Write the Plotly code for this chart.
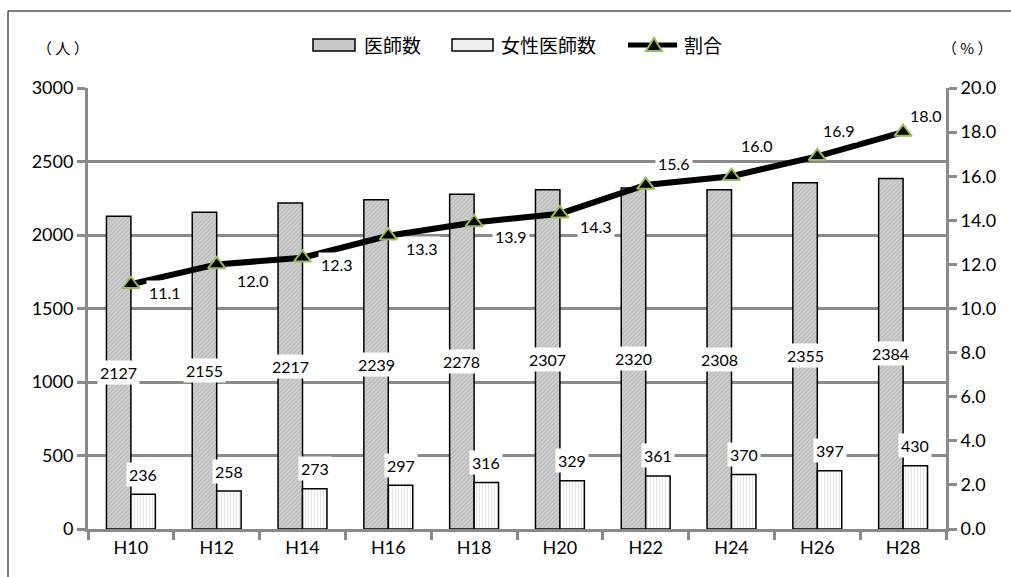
import plotly.graph_objects as go

# Survey years (Heisei era) and counts
years = ["H10", "H12", "H14", "H16", "H18", "H20", "H22", "H24", "H26", "H28"]
doctors = [2127, 2155, 2217, 2239, 2278, 2307, 2320, 2308, 2355, 2384]
female_doctors = [236, 258, 273, 297, 316, 329, 361, 370, 397, 430]
female_ratio = [11.1, 12.0, 12.3, 13.3, 13.9, 14.3, 15.6, 16.0, 16.9, 18.0]
series_names = ["医師数", "女性医師数", "割合"]

# Pixel offsets (dx, dy) of the ratio labels relative to their markers
ratio_label_offsets = [(34, -8), (36, -16), (34, -7), (34, -13), (37, -14),
                       (36, -13), (28, 22), (25, 31), (22, 26), (23, 17)]

W, H = 1011, 577
L, R, T, B = 88, 65, 88, 48
PW, PH = W - L - R, H - T - B
BARGAP = 0.43

GRID = "#8a8a8a"
GREEN = "#9BBB59"
DARK_FILL = "#c8c8c8"
LIGHT_FILL = "#efefef"
FONT = "Lato, 'Noto Sans CJK JP', sans-serif"
CJK = "'Noto Sans CJK JP', sans-serif"


def px_x(px):
    return (px - L) / PW


def px_y(py):
    return (H - B - py) / PH


fig = go.Figure()

fig.add_trace(go.Bar(
    x=years, y=doctors, name=series_names[0],
    marker=dict(color=DARK_FILL,
                line=dict(color="black", width=1.5),
                pattern=dict(shape="/", fgcolor="#9a9a9a", bgcolor="#d2d2d2",
                             size=3, solidity=0.4)),
))
fig.add_trace(go.Bar(
    x=years, y=female_doctors, name=series_names[1],
    marker=dict(color="white",
                line=dict(color="black", width=1.5),
                pattern=dict(shape="|", fgcolor="#cccccc", bgcolor="white",
                             size=3, solidity=0.35)),
))
fig.add_trace(go.Scatter(
    x=years, y=female_ratio, name=series_names[2], yaxis="y2",
    mode="lines+markers",
    line=dict(color="black", width=6),
    marker=dict(symbol="triangle-up", size=15, color="black",
                line=dict(color=GREEN, width=2)),
))

annotations = []
half = (1 - BARGAP) / 4
label_font = dict(family=FONT, size=16, color="black")

# Doctor count labels, centred in each bar
for i, v in enumerate(doctors):
    annotations.append(dict(
        x=i - half, y=v / 2, xref="x", yref="y", text=str(v),
        showarrow=False, bgcolor="white", borderpad=2, font=label_font))

# Female doctor count labels, just above each bar
for i, v in enumerate(female_doctors):
    annotations.append(dict(
        x=i + half, y=v, xref="x", yref="y", text=str(v), yshift=20,
        showarrow=False, bgcolor="white", borderpad=2, font=label_font))

# Ratio labels beside the markers
for i, v in enumerate(female_ratio):
    dx, dy = ratio_label_offsets[i]
    annotations.append(dict(
        x=i, y=v, xref="x", yref="y2", text=f"{v:.1f}",
        xshift=dx, yshift=dy,
        showarrow=False, bgcolor="white", borderpad=2, font=label_font))

# Unit captions above both value axes
for cx, txt in [(63, "（ 人 ）"), (968, "（ % ）")]:
    annotations.append(dict(x=px_x(cx), y=px_y(48), xref="paper", yref="paper",
                            xanchor="center", yanchor="middle",
                            text=txt, showarrow=False,
                            font=dict(family=CJK, size=15, color="black")))

shapes = []

# Frame around the chart (left and top edges)
shapes.append(dict(type="line", xref="paper", yref="paper",
                   x0=px_x(8), x1=px_x(8), y0=px_y(H + 2), y1=px_y(11),
                   line=dict(color="black", width=1)))
shapes.append(dict(type="line", xref="paper", yref="paper",
                   x0=px_x(8), x1=px_x(W + 2), y0=px_y(11), y1=px_y(11),
                   line=dict(color="black", width=1)))

# Legend drawn across the top
LEG_Y = 45
legend_font = dict(family=CJK, size=19, color="black")
for (x0, x1, fill), tx, name in [((313, 355, DARK_FILL), 362, series_names[0]),
                                 ((452, 493, LIGHT_FILL), 499, series_names[1])]:
    shapes.append(dict(type="rect", xref="paper", yref="paper",
                       x0=px_x(x0), x1=px_x(x1),
                       y0=px_y(LEG_Y + 6), y1=px_y(LEG_Y - 6),
                       fillcolor=fill, line=dict(color="black", width=1.5)))
    annotations.append(dict(x=px_x(tx), y=px_y(LEG_Y), xref="paper", yref="paper",
                            xanchor="left", yanchor="middle", text=name,
                            showarrow=False, font=legend_font))

shapes.append(dict(type="line", xref="paper", yref="paper",
                   x0=px_x(628), x1=px_x(677), y0=px_y(LEG_Y), y1=px_y(LEG_Y),
                   line=dict(color="black", width=5)))
tri = "M {:.5f},{:.5f} L {:.5f},{:.5f} L {:.5f},{:.5f} Z".format(
    px_x(646), px_y(LEG_Y + 6), px_x(662), px_y(LEG_Y + 6),
    px_x(654), px_y(LEG_Y - 7))
shapes.append(dict(type="path", xref="paper", yref="paper", path=tri,
                   fillcolor="black", line=dict(color=GREEN, width=2)))
annotations.append(dict(x=px_x(682), y=px_y(LEG_Y), xref="paper", yref="paper",
                        xanchor="left", yanchor="middle", text=series_names[2],
                        showarrow=False, font=legend_font))

fig.update_layout(
    width=W, height=H,
    margin=dict(l=L, r=R, t=T, b=B, pad=0),
    paper_bgcolor="white", plot_bgcolor="white",
    barmode="group", bargap=BARGAP, bargroupgap=0,
    font=dict(family=FONT, size=18, color="black"),
    showlegend=False,
    xaxis=dict(type="category", range=[-0.5, len(years) - 0.5],
               showgrid=False,
               showline=True, linecolor=GRID, linewidth=3,
               ticks="outside", tickson="boundaries", ticklen=8,
               tickwidth=3, tickcolor=GRID,
               tickfont=dict(family=FONT, size=18)),
    yaxis=dict(range=[0, 3000], dtick=500, showgrid=True,
               gridcolor=GRID, gridwidth=3,
               showline=True, linecolor=GRID, linewidth=3,
               ticks="outside", ticklen=8, tickwidth=3, tickcolor=GRID,
               zeroline=False,
               tickfont=dict(family=FONT, size=18)),
    yaxis2=dict(range=[0, 20], dtick=2, tickformat=".1f",
                overlaying="y", side="right", showgrid=False,
                showline=True, linecolor=GRID, linewidth=3,
                ticks="outside", ticklen=8, tickwidth=3, tickcolor=GRID,
                zeroline=False,
                tickfont=dict(family=FONT, size=18)),
    annotations=annotations,
    shapes=shapes,
)

fig.write_html("out.html")
